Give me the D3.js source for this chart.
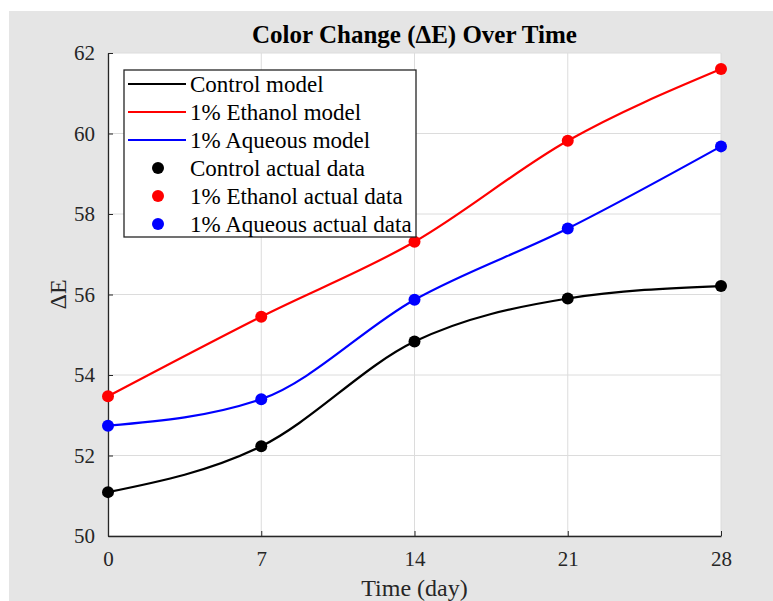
<!DOCTYPE html>
<html lang="en">
<head>
  <meta charset="utf-8">
  <title>Color Change Over Time</title>
  <script src="https://cdnjs.cloudflare.com/ajax/libs/d3/7.8.5/d3.min.js"></script>
  <style>
    body { margin: 0; background: #fff; }
    svg text { font-family: "Liberation Serif", "Times New Roman", serif; }
  </style>
</head>
<body>
<script>
  // data
  const days = [0, 7, 14, 21, 28];
  const control = [51.09, 52.23, 54.83, 55.90, 56.21];
  const ethanol = [53.47, 55.45, 57.31, 59.82, 61.60];
  const aqueous = [52.74, 53.40, 55.87, 57.64, 59.68];
  const yTicks = [50, 52, 54, 56, 58, 60, 62];
  const seriesNames = ["Control", "1% Ethanol", "1% Aqueous"];
  const seriesColors = ["#000000", "#ff0000", "#0000ff"];

  const series = [control, ethanol, aqueous].map((vals, i) => ({
    name: seriesNames[i],
    color: seriesColors[i],
    points: vals.map((v, j) => ({ x: days[j], y: v }))
  }));

  const W = 773, H = 601;
  const margin = { top: 53, right: 52, bottom: 65, left: 108 };
  const width = W - margin.left - margin.right;
  const height = H - margin.top - margin.bottom;

  const svg = d3.select("body").append("svg")
    .attr("width", W)
    .attr("height", H);

  // figure background
  svg.append("rect")
    .attr("x", 9).attr("y", 11)
    .attr("width", W - 9).attr("height", H - 11)
    .attr("fill", "#e5e5e5");

  const g = svg.append("g")
    .attr("transform", `translate(${margin.left},${margin.top})`);

  const x = d3.scaleLinear().domain([0, 28]).range([0, width]);
  const y = d3.scaleLinear().domain([50, 62]).range([height, 0]);

  g.append("rect")
    .attr("width", width).attr("height", height)
    .attr("fill", "#fff");

  // grid
  g.append("g").selectAll("line")
    .data(days).join("line")
    .attr("x1", d => x(d)).attr("x2", d => x(d))
    .attr("y1", 0).attr("y2", height)
    .attr("stroke", "#dcdcdc").attr("stroke-width", 1);
  g.append("g").selectAll("line")
    .data(yTicks).join("line")
    .attr("y1", d => y(d)).attr("y2", d => y(d))
    .attr("x1", 0).attr("x2", width)
    .attr("stroke", "#dcdcdc").attr("stroke-width", 1);

  // axes
  const xAxis = g.append("g")
    .attr("transform", `translate(0,${height})`)
    .call(d3.axisBottom(x).tickValues(days).tickSizeInner(-5).tickSizeOuter(0).tickPadding(12));
  const yAxis = g.append("g")
    .call(d3.axisLeft(y).tickValues(yTicks).tickSizeInner(-5).tickSizeOuter(0).tickPadding(12));

  [xAxis, yAxis].forEach(a => {
    a.select(".domain").attr("stroke", "#262626").attr("stroke-width", 1.3);
    a.selectAll(".tick line").attr("stroke", "#262626");
    a.selectAll(".tick text")
      .attr("fill", "#262626")
      .style("font-size", "21px")
      .style("font-family", "Liberation Serif");
  });
  xAxis.selectAll(".tick text").attr("dy", "0.85em");
  yAxis.selectAll(".tick text").attr("dx", "-1");

  // model curves
  const line = d3.line()
    .x(d => x(d.x))
    .y(d => y(d.y))
    .curve(d3.curveMonotoneX);

  g.append("g").selectAll("path")
    .data(series).join("path")
    .attr("d", d => line(d.points))
    .attr("fill", "none")
    .attr("stroke", d => d.color)
    .attr("stroke-width", 2.2);

  // actual data markers
  series.forEach(s => {
    g.append("g").selectAll("circle")
      .data(s.points).join("circle")
      .attr("cx", d => x(d.x))
      .attr("cy", d => y(d.y))
      .attr("r", 6)
      .attr("fill", s.color);
  });

  // title and labels
  svg.append("text")
    .attr("x", margin.left + width / 2)
    .attr("y", 43)
    .attr("text-anchor", "middle")
    .style("font-size", "25px")
    .style("font-weight", "bold")
    .attr("fill", "#000")
    .text("Color Change (\u0394E) Over Time");

  svg.append("text")
    .attr("x", margin.left + width / 2)
    .attr("y", 596)
    .attr("text-anchor", "middle")
    .style("font-size", "24px")
    .attr("fill", "#262626")
    .text("Time (day)");

  svg.append("text")
    .attr("transform", `translate(66,${margin.top + height / 2}) rotate(-90)`)
    .attr("text-anchor", "middle")
    .style("font-size", "24px")
    .attr("fill", "#262626")
    .text("\u0394E");

  // legend
  const legend = svg.append("g").attr("transform", "translate(124,70)");
  legend.append("rect")
    .attr("width", 292).attr("height", 167)
    .attr("fill", "#fff")
    .attr("stroke", "#262626").attr("stroke-width", 1.3);

  const items = series.map(s => ({ type: "line", color: s.color, label: s.name + " model" }))
    .concat(series.map(s => ({ type: "dot", color: s.color, label: s.name + " actual data" })));

  const rows = legend.selectAll("g.item")
    .data(items).join("g")
    .attr("class", "item")
    .attr("transform", (d, i) => `translate(0,${14 + i * 28})`);

  rows.filter(d => d.type === "line").append("line")
    .attr("x1", 4).attr("x2", 62)
    .attr("stroke", d => d.color).attr("stroke-width", 2.2);
  rows.filter(d => d.type === "dot").append("circle")
    .attr("cx", 34).attr("r", 6)
    .attr("fill", d => d.color);
  rows.append("text")
    .attr("x", 66).attr("dy", "0.33em")
    .style("font-size", "23px")
    .attr("fill", "#000")
    .text(d => d.label);
</script>
</body>
</html>
